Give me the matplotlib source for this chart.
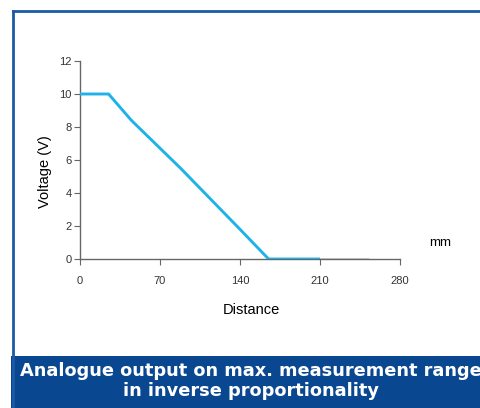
import matplotlib.pyplot as plt
from matplotlib.patches import Rectangle
from matplotlib.lines import Line2D

plt.rcParams['font.family'] = ['Liberation Sans', 'DejaVu Sans']

# output curve (mm, V)
distance = [0, 25, 45, 88, 140, 165, 210]
voltage = [10, 10, 8.4, 5.5, 1.8, 0, 0]
# flat tail drawn in black
tail_distance = [210, 252]
tail_voltage = [0, 0]

xticks = [0, 70, 140, 210, 280]
yticks = [0, 2, 4, 6, 8, 10, 12]

fig = plt.figure(figsize=(4.8, 4.08), dpi=100)

# frame around the chart
frame_col = '#1d5aa6'
fig.add_artist(Line2D([12.5 / 480, 12.5 / 480], [0, 1 - 10.5 / 408],
                      color=frame_col, lw=2, transform=fig.transFigure))
fig.add_artist(Line2D([12.5 / 480, 1], [1 - 10.5 / 408, 1 - 10.5 / 408],
                      color=frame_col, lw=2, transform=fig.transFigure))

ax = fig.add_axes([80 / 480, 149 / 408, 320 / 480, 198 / 408])
ax.plot(distance, voltage, color='#1fb2e8', lw=2.1, solid_capstyle='butt', zorder=3)
ax.plot(tail_distance, tail_voltage, color='#222222', lw=1.0, zorder=3)

ax.set_xlim(0, 280)
ax.set_ylim(0, 12)
ax.set_xticks(xticks)
ax.set_yticks(yticks)
ax.tick_params(labelsize=8, labelcolor='#333333', color='#666666', length=4, width=0.8)
ax.tick_params(axis='y', pad=2)
ax.tick_params(axis='x', pad=8)
for side in ['top', 'right']:
    ax.spines[side].set_visible(False)
for side in ['left', 'bottom']:
    ax.spines[side].set_color('#666666')
    ax.spines[side].set_linewidth(1.0)

ax.set_ylabel('Voltage (V)', fontsize=10.5, va='center')
ax.yaxis.set_label_coords(-0.109, 0.44)
ax.set_xlabel('Distance', fontsize=10.5, va='center')
ax.xaxis.set_label_coords(0.534, -0.258)
fig.text(440 / 480, 1 - 243 / 408, 'mm', fontsize=9.5, ha='center', va='center')

# caption band
fig.add_artist(Rectangle((11 / 480, 0), 1, 52 / 408, transform=fig.transFigure,
                         facecolor='#0a4791', edgecolor='none'))
fig.text(251 / 480, 1 - 381 / 408,
         'Analogue output on max. measurement range\nin inverse proportionality',
         color='white', fontsize=12.8, fontweight='bold', ha='center', va='center',
         linespacing=1.2, family=['DejaVu Sans'])

plt.savefig('out.png', dpi=100)
